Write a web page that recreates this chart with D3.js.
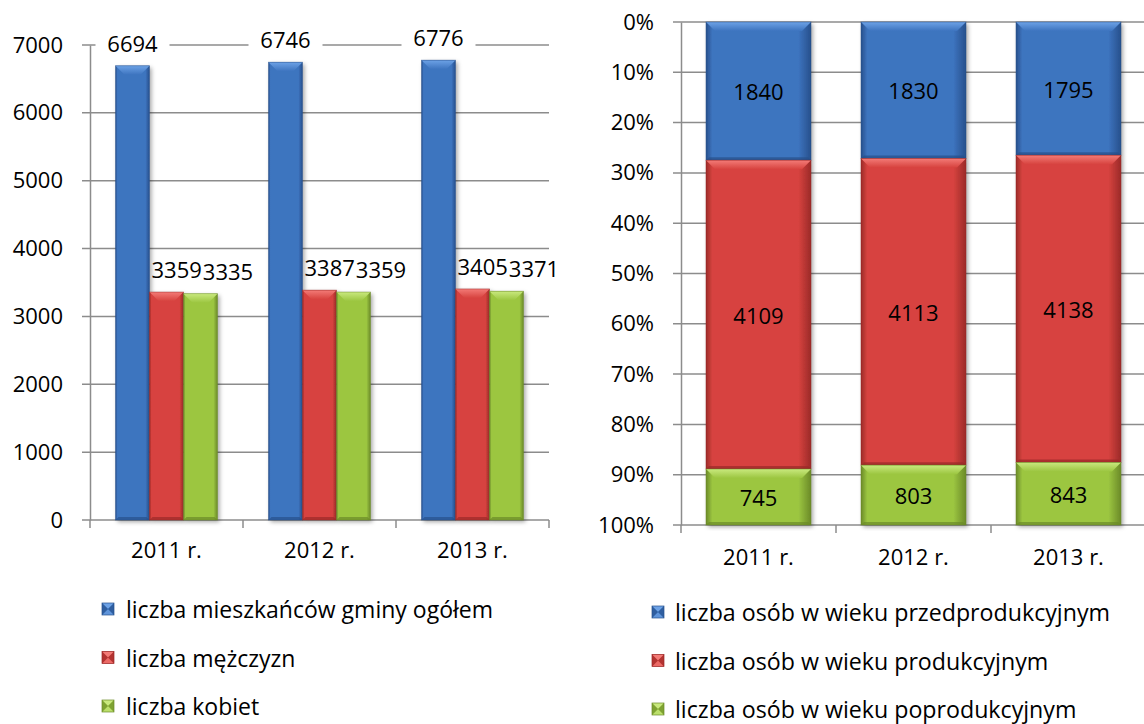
<!DOCTYPE html>
<html>
<head>
<meta charset="utf-8">
<script src="https://cdn.jsdelivr.net/npm/d3@7"></script>
<style>
  body { margin: 0; background: #fff; }
  svg { display: block; font-family: "Open Sans", sans-serif; }
</style>
</head>
<body>
<script>
// categories and values
const years = ["2011 r.", "2012 r.", "2013 r."];
const totalPop = [6694, 6746, 6776];
const men = [3359, 3387, 3405];
const women = [3335, 3359, 3371];
const leftTicks = [0, 1000, 2000, 3000, 4000, 5000, 6000, 7000];
const leftNames = ["liczba mieszkańców gminy ogółem", "liczba mężczyzn", "liczba kobiet"];

const preProd = [1840, 1830, 1795];
const prod = [4109, 4113, 4138];
const postProd = [745, 803, 843];
const rightTicks = [0, 0.1, 0.2, 0.3, 0.4, 0.5, 0.6, 0.7, 0.8, 0.9, 1];
const rightNames = ["liczba osób w wieku przedprodukcyjnym", "liczba osób w wieku produkcyjnym", "liczba osób w wieku poprodukcyjnym"];

const W = 1144, H = 724;
const palette = [
  {id: "blue", base: "#3d74bf", light: "#6da2e6", dark: "#27508c"},
  {id: "red", base: "#d7433f", light: "#f37b77", dark: "#9b2a28"},
  {id: "green", base: "#9cc641", light: "#c9e97e", dark: "#6b8a28"}
];
const gridColor = "#8c8c8c";

const svg = d3.select("body").append("svg").attr("width", W).attr("height", H);
const defs = svg.append("defs");

/** gradients for the bevelled bars */
palette.forEach(c => {
  let g = defs.append("linearGradient").attr("id", "side-" + c.id)
    .attr("x1", 0).attr("x2", 1).attr("y1", 0).attr("y2", 0);
  g.append("stop").attr("offset", "0%").attr("stop-color", c.dark);
  g.append("stop").attr("offset", "6%").attr("stop-color", c.base);
  g.append("stop").attr("offset", "88%").attr("stop-color", c.base);
  g.append("stop").attr("offset", "100%").attr("stop-color", c.dark);
  let t = defs.append("linearGradient").attr("id", "top-" + c.id)
    .attr("x1", 0).attr("x2", 0).attr("y1", 0).attr("y2", 1);
  t.append("stop").attr("offset", "0%").attr("stop-color", c.light);
  t.append("stop").attr("offset", "100%").attr("stop-color", c.base);
});
let shadow = defs.append("filter").attr("id", "shadow")
  .attr("x", "-20%").attr("y", "-5%").attr("width", "150%").attr("height", "115%");
shadow.append("feDropShadow").attr("dx", 2).attr("dy", 2).attr("stdDeviation", 2)
  .attr("flood-color", "#000").attr("flood-opacity", 0.35);

/** draws one bar with an Excel-like bevel */
function bevelBar(g, x, y, w, h, c) {
  if (h <= 0) return;
  let b = Math.min(9, h / 2, w / 3);
  let s = 3;
  g.append("rect").attr("x", x).attr("y", y).attr("width", w).attr("height", h)
    .attr("fill", `url(#side-${c.id})`).attr("filter", "url(#shadow)");
  g.append("polygon")
    .attr("points", [[x, y], [x + w, y], [x + w - b, y + b], [x + b, y + b]].join(" "))
    .attr("fill", `url(#top-${c.id})`);
  g.append("polygon")
    .attr("points", [[x, y + h], [x + w, y + h], [x + w - s, y + h - s], [x + s, y + h - s]].join(" "))
    .attr("fill", c.dark).attr("opacity", 0.7);
  g.append("rect").attr("x", x).attr("y", y).attr("width", w).attr("height", h)
    .attr("fill", "none").attr("stroke", c.dark).attr("stroke-width", 0.8).attr("opacity", 0.6);
}

function legendIcon(g, x, y, size, c) {
  let m = [x + size / 2, y + size / 2];
  g.append("rect").attr("x", x).attr("y", y).attr("width", size).attr("height", size).attr("fill", c.base);
  g.append("polygon").attr("points", [[x, y], [x + size, y], m].join(" ")).attr("fill", c.light);
  g.append("polygon").attr("points", [[x, y + size], [x + size, y + size], m].join(" ")).attr("fill", c.light).attr("opacity", 0.7);
  g.append("polygon").attr("points", [[x, y], [x, y + size], m].join(" ")).attr("fill", c.dark).attr("opacity", 0.6);
  g.append("polygon").attr("points", [[x + size, y], [x + size, y + size], m].join(" ")).attr("fill", c.dark).attr("opacity", 0.6);
  g.append("rect").attr("x", x).attr("y", y).attr("width", size).attr("height", size)
    .attr("fill", "none").attr("stroke", c.dark).attr("stroke-width", 0.7);
}

/* ---------------- left chart ---------------- */
const L = {x0: 90, x1: 549, top: 45, bottom: 520};
const x0 = d3.scaleBand().domain(years).range([L.x0, L.x1]).paddingInner(1 / 3).paddingOuter(1 / 6);
const x1 = d3.scaleBand().domain(leftNames).range([0, x0.bandwidth()]);
const yL = d3.scaleLinear().domain([0, 7000]).range([L.bottom, L.top]);

const left = svg.append("g");
left.selectAll("line.grid").data(leftTicks).enter().append("line")
  .attr("x1", L.x0 - 8).attr("x2", L.x1)
  .attr("y1", d => yL(d)).attr("y2", d => yL(d))
  .attr("stroke", gridColor).attr("stroke-width", 1.5);

let yAxisL = left.append("g").attr("transform", `translate(${L.x0},0)`)
  .call(d3.axisLeft(yL).tickValues(leftTicks).tickSize(0).tickPadding(27).tickFormat(d3.format("d")));
yAxisL.select(".domain").attr("stroke", gridColor).attr("stroke-width", 1.5);
yAxisL.selectAll("text").attr("font-size", 22).attr("fill", "#000").attr("font-family", "Open Sans");

let xAxisL = left.append("g").attr("transform", `translate(0,${L.bottom})`)
  .call(d3.axisBottom(x0).tickSize(0).tickPadding(22));
xAxisL.select(".domain").remove();
xAxisL.selectAll("text").attr("font-size", 22).attr("fill", "#000").attr("font-family", "Open Sans");
left.selectAll("line.cat").data(d3.range(years.length + 1)).enter().append("line")
  .attr("x1", i => L.x0 + i * x0.step()).attr("x2", i => L.x0 + i * x0.step())
  .attr("y1", L.bottom).attr("y2", L.bottom + 8)
  .attr("stroke", gridColor).attr("stroke-width", 1.5);

const leftSeries = [totalPop, men, women];
leftSeries.forEach((vals, si) => {
  let g = left.append("g");
  vals.forEach((v, i) => {
    bevelBar(g, x0(years[i]) + x1(leftNames[si]), yL(v), x1.bandwidth(), yL(0) - yL(v), palette[si]);
  });
});

// data labels: blue ones centred on a white box (cuts the gridline),
// red/green ones laid side by side like Excel does when they collide
years.forEach((yr, i) => {
  let bx = x0(yr) + x1(leftNames[0]) + x1.bandwidth() / 2;
  let by = yL(totalPop[i]) - 23;
  left.append("rect").attr("x", bx - 37).attr("y", by - 13).attr("width", 74).attr("height", 26).attr("fill", "#fff");
  left.append("text").attr("x", bx).attr("y", by).attr("text-anchor", "middle")
    .attr("dominant-baseline", "central").attr("font-size", 22).text(totalPop[i]);

  let rx = x0(yr) + x1(leftNames[1]) + 2;
  let redLabel = left.append("text").attr("x", rx).attr("y", yL(men[i]) - 23)
    .attr("dominant-baseline", "central").attr("font-size", 22).text(men[i]);
  let gx = rx + redLabel.node().getComputedTextLength() + 1;
  left.append("text").attr("x", gx).attr("y", yL(women[i]) - 23)
    .attr("dominant-baseline", "central").attr("font-size", 22).text(women[i]);
});

// left legend
leftNames.forEach((name, i) => {
  let y = 609 + i * 48.5;
  legendIcon(left, 102, y - 6, 12, palette[i]);
  left.append("text").attr("x", 126).attr("y", y).attr("dominant-baseline", "central")
    .attr("font-size", 23).text(name);
});

/* ---------------- right chart ---------------- */
const R = {x0: 681, x1: 1146, top: 22, bottom: 525};
const xR = d3.scaleBand().domain(years).range([R.x0, R.x1]).paddingInner(50 / 155).paddingOuter(25 / 155);
const yR = d3.scaleLinear().domain([0, 1]).range([R.top, R.bottom]);

const right = svg.append("g");
right.selectAll("line.grid").data(rightTicks).enter().append("line")
  .attr("x1", R.x0 - 8).attr("x2", R.x1)
  .attr("y1", d => yR(d)).attr("y2", d => yR(d))
  .attr("stroke", gridColor).attr("stroke-width", 1.5);

let yAxisR = right.append("g").attr("transform", `translate(${R.x0},0)`)
  .call(d3.axisLeft(yR).tickValues(rightTicks).tickSize(0).tickPadding(27).tickFormat(d3.format(".0%")));
yAxisR.select(".domain").attr("stroke", gridColor).attr("stroke-width", 1.5);
yAxisR.selectAll("text").attr("font-size", 22).attr("fill", "#000").attr("font-family", "Open Sans");

let xAxisR = right.append("g").attr("transform", `translate(0,${R.bottom})`)
  .call(d3.axisBottom(xR).tickSize(0).tickPadding(24));
xAxisR.select(".domain").remove();
xAxisR.selectAll("text").attr("font-size", 22).attr("fill", "#000").attr("font-family", "Open Sans");
right.selectAll("line.cat").data(d3.range(years.length + 1)).enter().append("line")
  .attr("x1", i => R.x0 + i * xR.step()).attr("x2", i => R.x0 + i * xR.step())
  .attr("y1", R.bottom).attr("y2", R.bottom + 8)
  .attr("stroke", gridColor).attr("stroke-width", 1.5);

const rightSeries = [preProd, prod, postProd];
const stacked = d3.stack().keys([0, 1, 2]).offset(d3.stackOffsetExpand)(
  years.map((y, i) => rightSeries.map(s => s[i])));
stacked.forEach((layer, si) => {
  let g = right.append("g");
  layer.forEach((seg, i) => {
    bevelBar(g, xR(years[i]), yR(seg[0]), xR.bandwidth(), yR(seg[1]) - yR(seg[0]), palette[si]);
  });
});
stacked.forEach((layer, si) => {
  layer.forEach((seg, i) => {
    right.append("text").attr("x", xR(years[i]) + xR.bandwidth() / 2)
      .attr("y", (yR(seg[0]) + yR(seg[1])) / 2)
      .attr("text-anchor", "middle").attr("dominant-baseline", "central")
      .attr("font-size", 22).text(rightSeries[si][i]);
  });
});

// right legend
rightNames.forEach((name, i) => {
  let y = 612 + i * 48.5;
  legendIcon(right, 652, y - 6, 12, palette[i]);
  right.append("text").attr("x", 675).attr("y", y).attr("dominant-baseline", "central")
    .attr("font-size", 23.2).text(name);
});
</script>
</body>
</html>
